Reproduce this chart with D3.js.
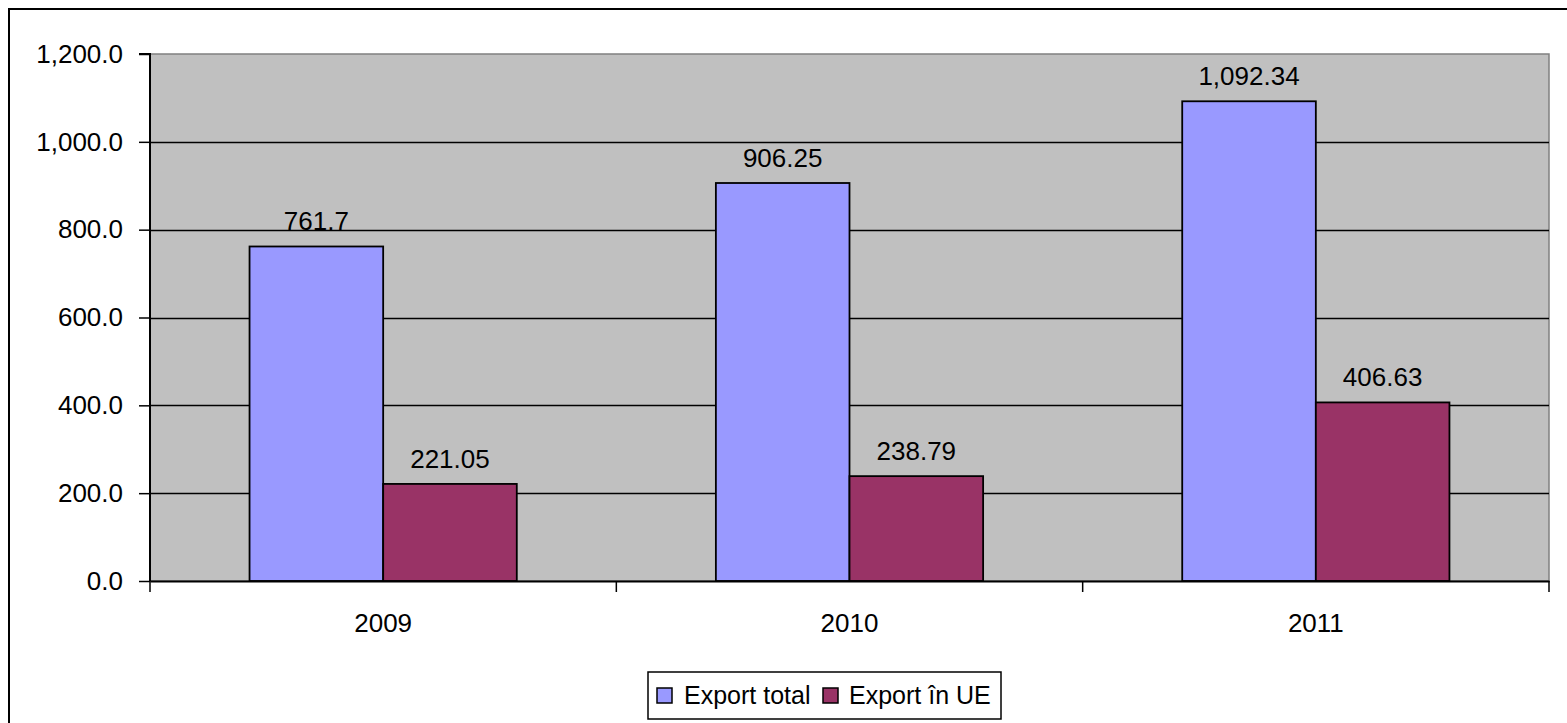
<!DOCTYPE html>
<html>
<head>
<meta charset="utf-8">
<script src="https://cdn.jsdelivr.net/npm/d3@7"></script>
<style>
    body { margin: 0; background: #fff; }
    text { font-family: "Liberation Sans", Arial, sans-serif; fill: #000; }
</style>
</head>
<body>
<div id="chart"></div>
<script>
// Chart data
const years = ["2009", "2010", "2011"];
const seriesNames = ["Export total", "Export în UE"];
const exportTotal = [761.7, 906.25, 1092.34];
const exportUE = [221.05, 238.79, 406.63];
const yTicks = [0, 200, 400, 600, 800, 1000, 1200];
const seriesColors = ["#9999FF", "#993366"];

const width = 1567, height = 723;
const plot = { left: 150, right: 1549, top: 54, bottom: 581 };

const svg = d3.select("#chart")
    .append("svg")
    .attr("width", width)
    .attr("height", height);

// Outer frame (only top/left visible in the picture)
svg.append("rect")
    .attr("x", 9).attr("y", 9)
    .attr("width", 1600).attr("height", 800)
    .attr("fill", "#fff")
    .attr("stroke", "#000")
    .attr("stroke-width", 2);

const x = d3.scaleBand()
    .domain(years)
    .range([plot.left, plot.right]);

const xInner = d3.scaleBand()
    .domain(seriesNames)
    .range([0, x.bandwidth()])
    .paddingOuter(0.745);

const y = d3.scaleLinear()
    .domain([0, 1200])
    .range([plot.bottom, plot.top]);

// Plot background
svg.append("rect")
    .attr("x", plot.left).attr("y", plot.top)
    .attr("width", plot.right - plot.left)
    .attr("height", plot.bottom - plot.top)
    .attr("fill", "#C0C0C0")
    .attr("stroke", "#808080")
    .attr("stroke-width", 1.5);

// Gridlines
svg.append("g")
    .selectAll("line")
    .data(yTicks.slice(1, -1))
    .enter().append("line")
    .attr("x1", plot.left).attr("x2", plot.right)
    .attr("y1", d => Math.round(y(d)) + 0.5).attr("y2", d => Math.round(y(d)) + 0.5)
    .attr("stroke", "#000")
    .attr("stroke-width", 1.5);

// Bars
const rows = years.map((yr, i) => ({
    year: yr,
    values: [
        { name: seriesNames[0], value: exportTotal[i], color: seriesColors[0] },
        { name: seriesNames[1], value: exportUE[i], color: seriesColors[1] }
    ]
}));

const group = svg.append("g")
    .selectAll("g")
    .data(rows)
    .enter().append("g")
    .attr("transform", d => `translate(${x(d.year)},0)`);

group.selectAll("rect")
    .data(d => d.values)
    .enter().append("rect")
    .attr("x", d => xInner(d.name))
    .attr("y", d => y(d.value))
    .attr("width", xInner.bandwidth())
    .attr("height", d => y(0) - y(d.value))
    .attr("fill", d => d.color)
    .attr("stroke", "#000")
    .attr("stroke-width", 1.8);

// Value labels
group.selectAll("text")
    .data(d => d.values)
    .enter().append("text")
    .attr("x", d => xInner(d.name) + xInner.bandwidth() / 2)
    .attr("y", d => y(d.value) - 16)
    .attr("text-anchor", "middle")
    .style("font-size", "26px")
    .text(d => d3.format(",")(d.value));

// Y axis
const yAxis = svg.append("g")
    .attr("transform", `translate(${plot.left},0)`)
    .call(d3.axisLeft(y).tickValues(yTicks).tickSize(11).tickPadding(16).tickFormat(d3.format(",.1f")));
yAxis.select(".domain").attr("stroke", "#000").attr("stroke-width", 2).attr("d", `M-11,${plot.top}H0V${plot.bottom}`);
yAxis.selectAll(".tick line").attr("stroke", "#000").attr("stroke-width", 1.5);
yAxis.selectAll(".tick text")
    .style("font-size", "26px")
    .attr("fill", "#000")
    .attr("font-family", null);

// X axis
const xAxis = svg.append("g")
    .attr("transform", `translate(0,${plot.bottom})`)
    .call(d3.axisBottom(x).tickSize(0).tickPadding(33));
xAxis.select(".domain").attr("stroke", "#000").attr("stroke-width", 2);
xAxis.selectAll(".tick text")
    .style("font-size", "26px")
    .attr("fill", "#000")
    .attr("font-family", null);

// Category separator ticks
const bounds = years.map(d => x(d)).concat([x(years[years.length - 1]) + x.bandwidth()]);
svg.append("g")
    .selectAll("line")
    .data(bounds)
    .enter().append("line")
    .attr("x1", d => d).attr("x2", d => d)
    .attr("y1", plot.bottom).attr("y2", plot.bottom + 11)
    .attr("stroke", "#000")
    .attr("stroke-width", 1.5);

// Legend
const legend = svg.append("g").attr("transform", "translate(648,672)");
legend.append("rect")
    .attr("width", 353).attr("height", 47)
    .attr("fill", "#fff")
    .attr("stroke", "#000")
    .attr("stroke-width", 1.5);

const legendItems = [
    { name: seriesNames[0], color: seriesColors[0], x: 9, tx: 36 },
    { name: seriesNames[1], color: seriesColors[1], x: 175, tx: 201 }
];
const item = legend.selectAll("g")
    .data(legendItems)
    .enter().append("g")
    .attr("transform", d => `translate(${d.x},0)`);
item.append("rect")
    .attr("y", 16).attr("width", 15).attr("height", 15)
    .attr("fill", d => d.color)
    .attr("stroke", "#000")
    .attr("stroke-width", 1.5);
item.append("text")
    .attr("x", d => d.tx - d.x)
    .attr("y", 32)
    .style("font-size", "25px")
    .text(d => d.name);
</script>
</body>
</html>
